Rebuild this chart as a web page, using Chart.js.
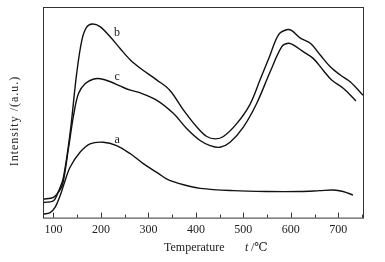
<!DOCTYPE html>
<html>
<head>
<meta charset="utf-8">
<script src="https://cdn.jsdelivr.net/npm/chart.js@4.4.0/dist/chart.umd.min.js"></script>
<style>
  html, body { margin: 0; padding: 0; background: #fff; }
  #wrap { width: 385px; height: 262px; }
</style>
</head>
<body>
<div id="wrap"><canvas id="miGrafico"></canvas></div>
<script>
// curve a
const tempA = [78, 93, 104, 114, 121, 135, 156, 177, 205, 233, 262, 290, 321, 339, 374, 409, 479, 549, 619, 661, 689, 710, 731];
const intA  = [1.6, 2.4, 5.1, 10.4, 15.1, 23.9, 31, 35, 35.8, 34.2, 30.3, 25.5, 21, 18.3, 15.6, 13.9, 12.8, 12.4, 12.4, 12.8, 13.1, 12.4, 10.7];
// curve b
const tempB = [78, 100, 111, 121, 135, 149, 160, 170, 182, 198, 219, 240, 262, 283, 318, 345, 374, 402, 423, 441, 458, 486, 514, 535, 556, 574, 591, 602, 620, 641, 662, 683, 704, 725, 752];
const intB  = [7.2, 8.0, 12.7, 19.1, 40, 68.6, 84.4, 90.4, 91.9, 90.7, 86, 80.4, 74.8, 70.9, 65.3, 60.5, 51, 43, 38.5, 37.4, 38.5, 44.6, 53.8, 65.3, 77, 86.8, 89.2, 88.8, 85.2, 82.8, 77.2, 71.6, 67.7, 64.5, 58.1];
// curve c
const tempC = [78, 100, 115, 121, 132, 143, 153, 167, 185, 199, 220, 241, 262, 283, 318, 353, 381, 409, 430, 451, 472, 500, 528, 556, 581, 595, 605, 626, 647, 668, 686, 711, 737];
const intC  = [8.8, 9.6, 13.6, 17.5, 33.4, 49.4, 59, 63.7, 65.8, 65.9, 64.5, 62.4, 60.5, 59.2, 55.7, 49.4, 42.2, 36.6, 34.2, 33.4, 35.8, 43, 54.2, 69, 81.2, 82.8, 82, 78.8, 75.6, 70, 65.3, 61.3, 55.4];

const xTicks = [100, 200, 300, 400, 500, 600, 700];
const curveLabels = [
    { text: 'b', x: 234, y: 87.6 },
    { text: 'c', x: 234, y: 67 },
    { text: 'a', x: 234, y: 37 }
];

function toPoints(xs, ys) {
    const pts = [];
    for (let i = 0; i < xs.length; i++) pts.push({ x: xs[i], y: ys[i] });
    return pts;
}

const serif = '"Liberation Serif", "DejaVu Serif", serif';

const marcoPlugin = {
    id: 'marco',
    afterDatasetsDraw(chart) {
        const ctx = chart.ctx;
        const a = chart.chartArea;
        const xs = chart.scales.x;
        const ys = chart.scales.y;
        ctx.save();
        ctx.strokeStyle = '#333';
        ctx.lineWidth = 1;
        ctx.strokeRect(a.left + 0.5, a.top + 0.5, a.right - a.left, a.bottom - a.top);
        // inward ticks on the bottom axis
        for (let v = 100; v <= 750; v += 50) {
            const px = Math.round(xs.getPixelForValue(v)) + 0.5;
            const len = (v % 100 === 0) ? 5 : 3;
            ctx.beginPath();
            ctx.moveTo(px, a.bottom);
            ctx.lineTo(px, a.bottom - len);
            ctx.stroke();
        }
        ctx.fillStyle = '#222';
        ctx.textBaseline = 'middle';
        // curve letters
        ctx.font = '12px ' + serif;
        ctx.textAlign = 'center';
        for (let lb of curveLabels) {
            ctx.fillText(lb.text, xs.getPixelForValue(lb.x), ys.getPixelForValue(lb.y));
        }
        // x title
        ctx.textAlign = 'left';
        ctx.font = '12px ' + serif;
        ctx.fillText('Temperature', 164, 248);
        ctx.font = 'italic 12px ' + serif;
        ctx.fillText('t', 245, 248);
        ctx.font = '12px ' + serif;
        ctx.fillText('/\u2103', 251, 248);
        // y title
        ctx.translate(15, 121);
        ctx.rotate(-Math.PI / 2);
        ctx.textAlign = 'center';
        ctx.letterSpacing = '1px';
        ctx.fillText('Intensity /(a.u.)', 0, 0);
        ctx.restore();
    }
};

function lineSet(xs, ys) {
    return {
        data: toPoints(xs, ys),
        borderColor: '#111',
        borderWidth: 1.4,
        pointRadius: 0,
        tension: 0.35,
        fill: false
    };
}

const grafico = new Chart(document.getElementById('miGrafico'), {
    type: 'line',
    data: { datasets: [lineSet(tempA, intA), lineSet(tempB, intB), lineSet(tempC, intC)] },
    options: {
        responsive: true,
        maintainAspectRatio: false,
        animation: false,
        layout: { padding: { top: 7, right: 22, left: 43, bottom: 20 } },
        plugins: { legend: { display: false }, tooltip: { enabled: false } },
        scales: {
            x: {
                type: 'linear',
                min: 78,
                max: 752,
                afterBuildTicks: (axis) => { axis.ticks = xTicks.map(v => ({ value: v })); },
                grid: { display: false, drawTicks: false },
                border: { display: false },
                ticks: { color: '#222', font: { family: serif, size: 12 }, padding: 5, maxRotation: 0 }
            },
            y: {
                display: false,
                min: 0,
                max: 100
            }
        }
    },
    plugins: [marcoPlugin]
});
</script>
</body>
</html>
